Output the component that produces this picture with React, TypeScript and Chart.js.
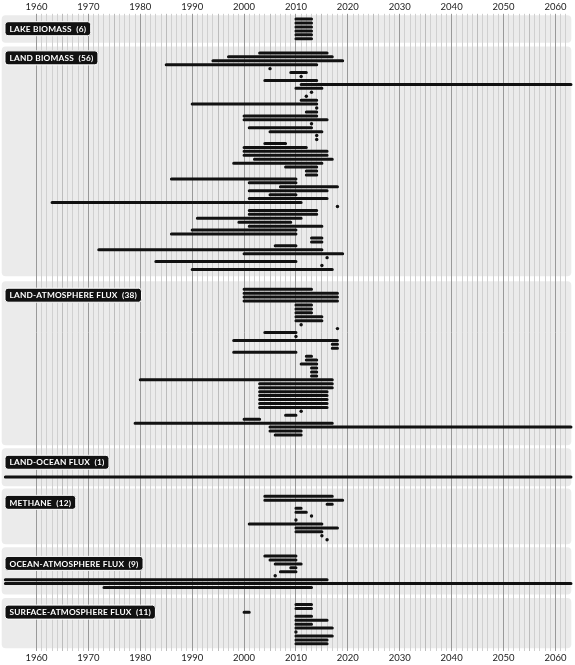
import React, { useEffect, useRef } from 'react';
import { Chart, registerables } from 'chart.js';

Chart.register(...registerables);

// ---------- DATA ----------
const GROUP_NAMES = [
  'LAKE BIOMASS',
  'LAND BIOMASS',
  'LAND-ATMOSPHERE FLUX',
  'LAND-OCEAN FLUX',
  'METHANE',
  'OCEAN-ATMOSPHERE FLUX',
  'SURFACE-ATMOSPHERE FLUX',
];

// start / end year of each record (start === end : single year)
const LAKE_BIOMASS_START = [2010, 2010, 2010, 2010, 2010, 2010];
const LAKE_BIOMASS_END = [2013, 2013, 2013, 2013, 2013, 2013];

const LAND_BIOMASS_START = [
  2003, 1997, 1994, 1985, 2005, 2009, 2011, 2004, 2011, 2010,
  2013, 2012, 2011, 1990, 2014, 2012, 2000, 2000, 2013, 2001,
  2005, 2014, 2014, 2004, 2000, 2000, 2000, 2002, 1998, 2008,
  2012, 2012, 1986, 2001, 2007, 2001, 2005, 2001, 1963, 2018,
  2001, 2001, 1991, 1999, 2001, 1990, 1986, 2013, 2013, 2006,
  1972, 2000, 2016, 1983, 2015, 1990,
];
const LAND_BIOMASS_END = [
  2016, 2017, 2019, 2014, 2005, 2012, 2011, 2014, 2063, 2015,
  2013, 2012, 2014, 2014, 2014, 2014, 2014, 2016, 2013, 2013,
  2015, 2014, 2014, 2008, 2012, 2016, 2016, 2017, 2015, 2014,
  2014, 2014, 2010, 2010, 2018, 2016, 2010, 2016, 2011, 2018,
  2014, 2014, 2011, 2009, 2015, 2010, 2010, 2015, 2015, 2010,
  2015, 2019, 2016, 2010, 2015, 2017,
];

const LAND_ATMOSPHERE_START = [
  2000, 2000, 2000, 2000, 2010, 2010, 2010, 2010, 2010, 2011,
  2018, 2004, 2010, 1998, 2017, 2017, 1998, 2012, 2012, 2011,
  2013, 2013, 2013, 1980, 2003, 2003, 2003, 2003, 2003, 2003,
  2003, 2011, 2008, 2000, 1979, 2005, 2005, 2006,
];
const LAND_ATMOSPHERE_END = [
  2013, 2018, 2018, 2018, 2013, 2013, 2013, 2015, 2015, 2011,
  2018, 2010, 2010, 2018, 2018, 2018, 2010, 2013, 2014, 2014,
  2014, 2014, 2014, 2017, 2017, 2017, 2016, 2016, 2016, 2016,
  2016, 2011, 2010, 2003, 2017, 2063, 2011, 2011,
];

const LAND_OCEAN_START = [1954];
const LAND_OCEAN_END = [2063];

const METHANE_START = [2004, 2004, 2016, 2010, 2010, 2013, 2010, 2001, 2010, 2010, 2015, 2016];
const METHANE_END = [2017, 2019, 2017, 2011, 2012, 2013, 2010, 2015, 2018, 2015, 2015, 2016];

const OCEAN_ATMOSPHERE_START = [2004, 2005, 2006, 2009, 2007, 2006, 1954, 1954, 1973];
const OCEAN_ATMOSPHERE_END = [2010, 2010, 2011, 2010, 2010, 2006, 2016, 2063, 2013];

const SURFACE_ATMOSPHERE_START = [2010, 2010, 2000, 2010, 2010, 2010, 2010, 2010, 2010, 2010, 2010];
const SURFACE_ATMOSPHERE_END = [2013, 2013, 2001, 2013, 2016, 2013, 2017, 2010, 2017, 2016, 2016];

const DECADE_LABELS = ['1960', '1970', '1980', '1990', '2000', '2010', '2020', '2030', '2040', '2050', '2060'];
const FIRST_GRID_YEAR = 1960;
const LAST_GRID_YEAR = 2062;

// ---------- LAYOUT / STYLE ----------
const X_MIN = 1960 - 35 / 5.22;
const X_MAX = X_MIN + 575 / 5.22;
const ROW_STEP = 3.96;
// panel top, panel bottom, first row, badge centre (vertical units of the y scale)
const LAYOUT = [
  { top: 13.5, bottom: 41, first: 17.3, badge: 27 },
  { top: 45, bottom: 276, first: 51.3, badge: 56.3 },
  { top: 281, bottom: 446, first: 289, badge: 295 },
  { top: 449, bottom: 487, first: 477.7, badge: 463 },
  { top: 489.5, bottom: 545.5, first: 497.3, badge: 503.3 },
  { top: 548.5, bottom: 596, first: 557.3, badge: 564.7 },
  { top: 599.5, bottom: 650, first: 606, badge: 613.7 },
];
const PANEL_COLOR = '#ebebeb';
const MARK_COLOR = '#111111';
const FONT = 'Lato, "Open Sans", sans-serif';

export default function App() {
  const ref = useRef<HTMLCanvasElement>(null);

  useEffect(() => {
    document.body.style.margin = '0';
    const groups = [
      [LAKE_BIOMASS_START, LAKE_BIOMASS_END],
      [LAND_BIOMASS_START, LAND_BIOMASS_END],
      [LAND_ATMOSPHERE_START, LAND_ATMOSPHERE_END],
      [LAND_OCEAN_START, LAND_OCEAN_END],
      [METHANE_START, METHANE_END],
      [OCEAN_ATMOSPHERE_START, OCEAN_ATMOSPHERE_END],
      [SURFACE_ATMOSPHERE_START, SURFACE_ATMOSPHERE_END],
    ];
    const lineData: any[] = [];
    const dotData: any[] = [];
    groups.forEach(([starts, ends], gi) => {
      const L = LAYOUT[gi];
      starts.forEach((s, i) => {
        const y = L.first + i * ROW_STEP;
        const e = ends[i];
        if (e > s) {
          lineData.push({ x: s, y }, { x: e, y }, { x: e, y: null });
        } else {
          dotData.push({ x: s, y });
        }
      });
    });

    const gridTicks: { value: number }[] = [];
    for (let v = FIRST_GRID_YEAR; v <= LAST_GRID_YEAR; v++) gridTicks.push({ value: v });

    const gridColor = (c: any) => {
      const v = c.tick ? c.tick.value : 0;
      if (v % 10 === 0) return '#999999';
      if (v % 5 === 0) return '#bcbcbc';
      return '#d0d0d0';
    };

    const panelPlugin = {
      id: 'panels',
      beforeDraw(chart: any) {
        const { ctx, chartArea } = chart;
        const y = chart.scales.y;
        ctx.save();
        ctx.fillStyle = PANEL_COLOR;
        LAYOUT.forEach((L) => {
          const t = y.getPixelForValue(L.top);
          const b = y.getPixelForValue(L.bottom);
          ctx.beginPath();
          ctx.roundRect(chartArea.left, t, chartArea.right - chartArea.left - 2, b - t, 4);
          ctx.fill();
        });
        ctx.restore();
      },
      afterDraw(chart: any) {
        const { ctx } = chart;
        const y = chart.scales.y;
        ctx.save();
        ctx.font = `bold 8.3px ${FONT}`;
        (ctx as any).letterSpacing = '0.2px';
        ctx.textBaseline = 'middle';
        GROUP_NAMES.forEach((name, gi) => {
          const text = `${name}  (${groups[gi][0].length})`;
          const w = ctx.measureText(text).width + 9;
          const cy = y.getPixelForValue(LAYOUT[gi].badge);
          const h = 14;
          ctx.beginPath();
          ctx.roundRect(5, cy - h / 2, w, h, 3);
          ctx.fillStyle = MARK_COLOR;
          ctx.fill();
          ctx.lineWidth = 1;
          ctx.strokeStyle = '#ffffff';
          ctx.stroke();
          ctx.fillStyle = '#ffffff';
          ctx.fillText(text, 9.5, cy + 0.5);
        });
        ctx.restore();
      },
    };

    const xAxis = (position: 'top' | 'bottom', showGrid: boolean) => ({
      type: 'linear' as const,
      position,
      min: X_MIN,
      max: X_MAX,
      afterBuildTicks: (axis: any) => {
        axis.ticks = gridTicks.map((t) => ({ value: t.value }));
      },
      grid: showGrid
        ? { display: true, color: gridColor, lineWidth: 1, drawTicks: false }
        : { display: false, drawTicks: false },
      border: { display: false },
      ticks: {
        autoSkip: false,
        maxRotation: 0,
        minRotation: 0,
        padding: 1.2,
        color: '#222222',
        font: { family: FONT, size: 9.5 },
        callback: (v: any) => (DECADE_LABELS.includes(String(v)) ? String(v) : ''),
      },
    });

    const chart = new Chart(ref.current as HTMLCanvasElement, {
      type: 'scatter',
      data: {
        datasets: [
          {
            data: lineData,
            showLine: true,
            borderColor: MARK_COLOR,
            borderWidth: 3,
            borderCapStyle: 'round',
            pointRadius: 0,
            pointHoverRadius: 0,
            spanGaps: false,
            tension: 0,
          } as any,
          {
            data: dotData,
            showLine: false,
            pointRadius: 1.7,
            pointHoverRadius: 1.7,
            backgroundColor: MARK_COLOR,
            borderWidth: 0,
          } as any,
        ],
      },
      options: {
        animation: false,
        responsive: false,
        events: [],
        layout: { padding: 0 },
        plugins: { legend: { display: false }, tooltip: { enabled: false } },
        scales: {
          x: xAxis('bottom', true),
          x2: xAxis('top', false),
          y: { type: 'linear', min: 12, max: 653, reverse: true, display: false },
        } as any,
      },
      plugins: [panelPlugin],
    });
    return () => chart.destroy();
  }, []);

  return (
    <div style={{ width: 575, height: 665 }}>
      <canvas ref={ref} width={575} height={665} style={{ display: 'block' }} />
    </div>
  );
}
